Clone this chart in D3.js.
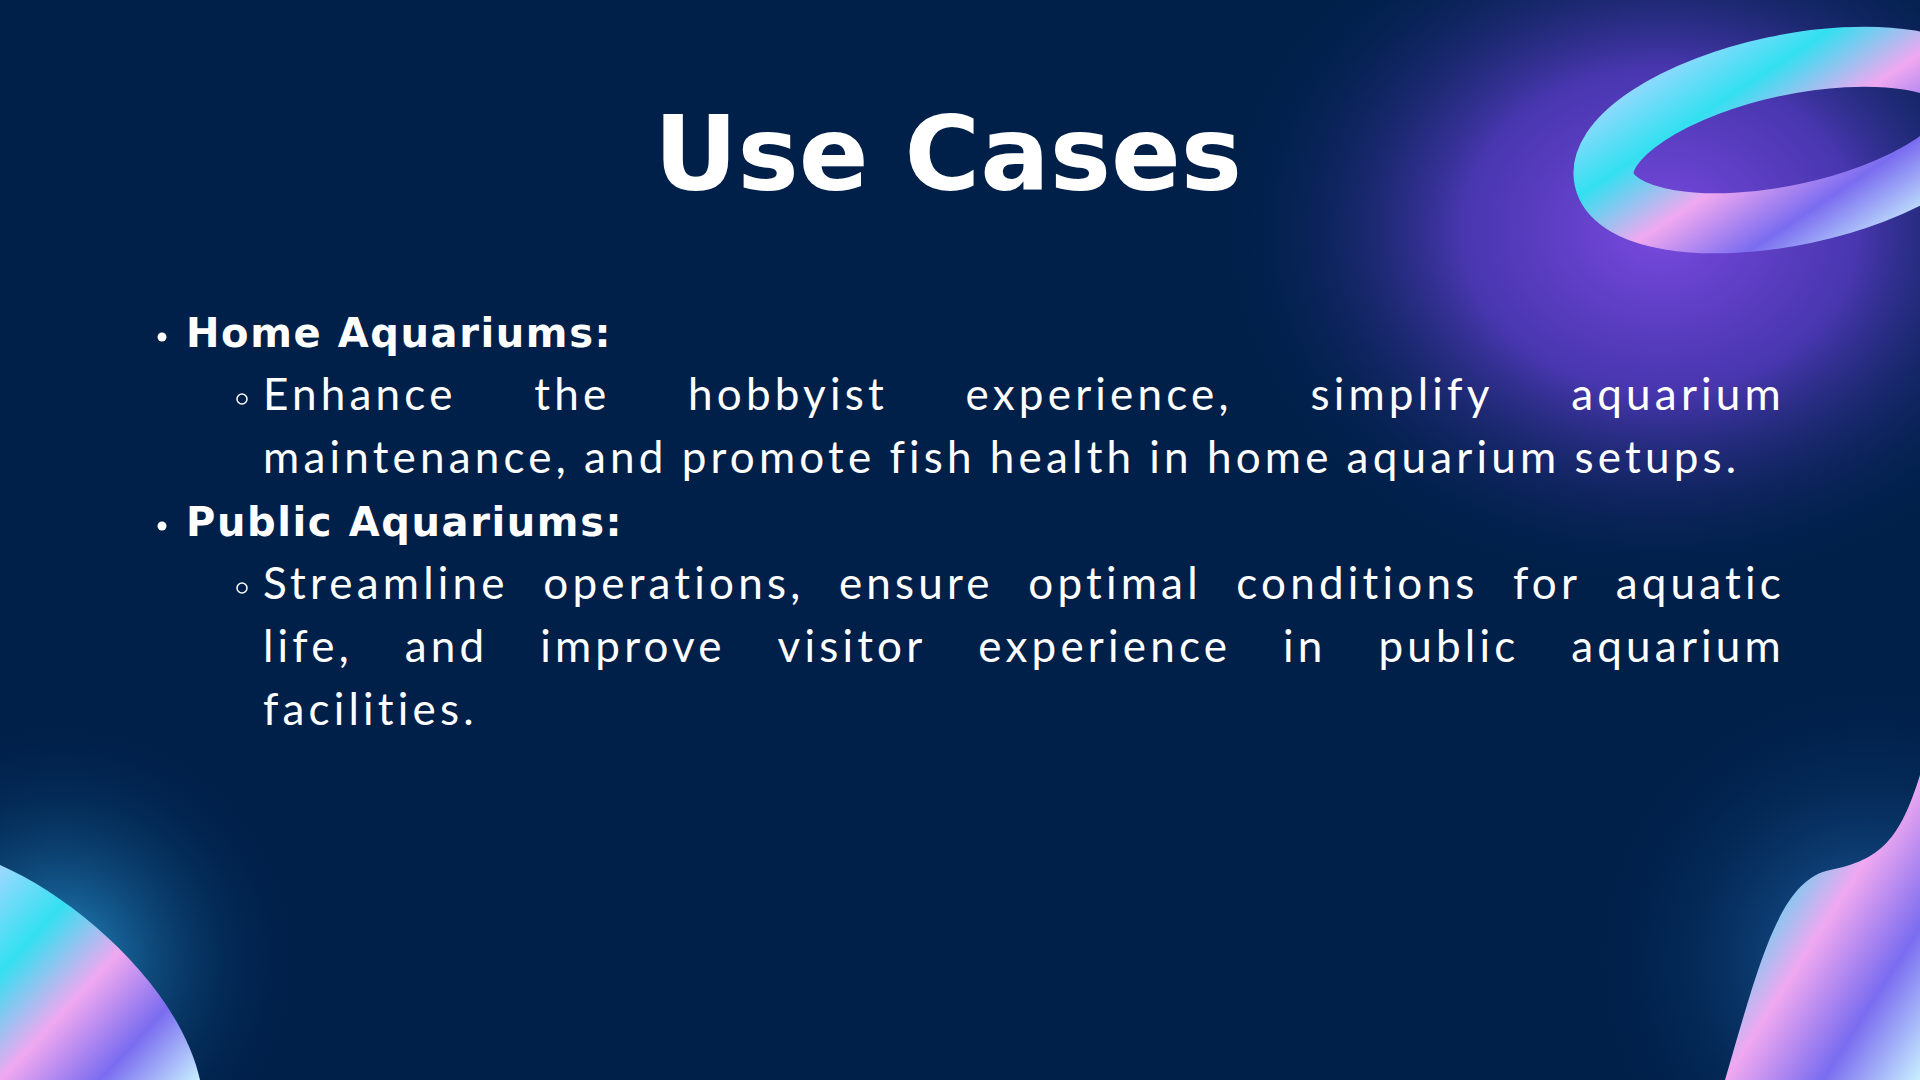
<!DOCTYPE html>
<html><head><meta charset="utf-8">
<script src="https://cdn.jsdelivr.net/npm/d3@7"></script>
<style>html,body{margin:0;padding:0;background:#00204a;overflow:hidden}</style>
</head><body>
<svg width="1920" height="1080"></svg>
<script>
var title = "Use Cases";
var headings = ["Home Aquariums:", "Public Aquariums:"];
var paragraphs = [
  ["Enhance the hobbyist experience, simplify aquarium", "maintenance, and promote fish health in home aquarium setups."],
  ["Streamline operations, ensure optimal conditions for aquatic", "life, and improve visitor experience in public aquarium", "facilities."]
];

var svg = d3.select("svg");
var defs = svg.append("defs");

function radial(id, stops) {
  var g = defs.append("radialGradient").attr("id", id);
  stops.forEach(function(s) {
    g.append("stop").attr("offset", s[0]).attr("stop-color", s[1]).attr("stop-opacity", s[2]);
  });
}
radial("glowTR", [[0, "#7a4ae0", 1], [0.45, "#5a3cc8", 0.8], [1, "#00204a", 0]]);
radial("glowBL", [[0, "#2a9ad8", 0.9], [1, "#00204a", 0]]);
radial("glowBR", [[0, "#2a7ac8", 0.8], [1, "#00204a", 0]]);

var holo = defs.append("linearGradient").attr("id", "holo")
  .attr("x1", 0).attr("y1", 0).attr("x2", 1).attr("y2", 1);
[["0", "#9fd8ff"], ["0.25", "#33e0f0"], ["0.5", "#f0a8f0"], ["0.75", "#7a6cf0"], ["1", "#c8f0ff"]]
  .forEach(function(s) { holo.append("stop").attr("offset", s[0]).attr("stop-color", s[1]); });

svg.append("rect").attr("width", 1920).attr("height", 1080).attr("fill", "#00204a");
svg.append("ellipse").attr("cx", 1660).attr("cy", 230).attr("rx", 440).attr("ry", 360).attr("fill", "url(#glowTR)");
svg.append("circle").attr("cx", 60).attr("cy", 960).attr("r", 240).attr("fill", "url(#glowBL)");
svg.append("circle").attr("cx", 1870).attr("cy", 960).attr("r", 280).attr("fill", "url(#glowBR)");

// ring top right
svg.append("ellipse").attr("cx", 1790).attr("cy", 140).attr("rx", 190).attr("ry", 75)
  .attr("transform", "rotate(-12 1790 140)")
  .attr("fill", "none").attr("stroke", "url(#holo)").attr("stroke-width", 60);
// bottom left blob
svg.append("path").attr("d", "M0,865 C80,900 180,990 200,1080 L0,1080 Z").attr("fill", "url(#holo)");
// bottom right blob
svg.append("path").attr("d", "M1920,775 C1900,840 1880,860 1830,870 C1780,880 1760,960 1725,1080 L1920,1080 Z").attr("fill", "url(#holo)");

var font = "Lato, 'DejaVu Sans', sans-serif";
svg.append("text").attr("x", 948).attr("y", 190).attr("text-anchor", "middle")
  .attr("font-family", "'DejaVu Sans', sans-serif").attr("font-weight", 700)
  .attr("font-size", 103).attr("fill", "#fff").text(title);

var left = 263, right = 1785, lineH = 63;
var y = 347;
headings.forEach(function(h, i) {
  svg.append("circle").attr("cx", 162).attr("cy", y - 10).attr("r", 4.5).attr("fill", "#fff");
  svg.append("text").attr("x", 186).attr("y", y).attr("font-family", "'DejaVu Sans', sans-serif")
    .attr("font-weight", 700).attr("font-size", 40).attr("letter-spacing", 1.6)
    .attr("fill", "#fff").text(h);
  y += lineH;
  svg.append("circle").attr("cx", 242).attr("cy", y - 11).attr("r", 5).attr("fill", "none")
    .attr("stroke", "#fff").attr("stroke-width", 1.5);
  paragraphs[i].forEach(function(line, j) {
    var words = line.split(" ");
    var last = j === paragraphs[i].length - 1;
    var g = svg.append("g");
    var nodes = words.map(function(w) {
      return g.append("text").attr("y", y).attr("font-family", font).attr("font-size", 44)
        .attr("letter-spacing", 4.2).attr("fill", "#fff").text(w);
    });
    var widths = nodes.map(function(n) { return n.node().getComputedTextLength(); });
    var total = d3.sum(widths);
    var gap = last ? 14 : (right - left - total) / (words.length - 1);
    var x = left;
    nodes.forEach(function(n, k) { n.attr("x", x); x += widths[k] + gap; });
    y += lineH;
  });
});
</script>
</body></html>
